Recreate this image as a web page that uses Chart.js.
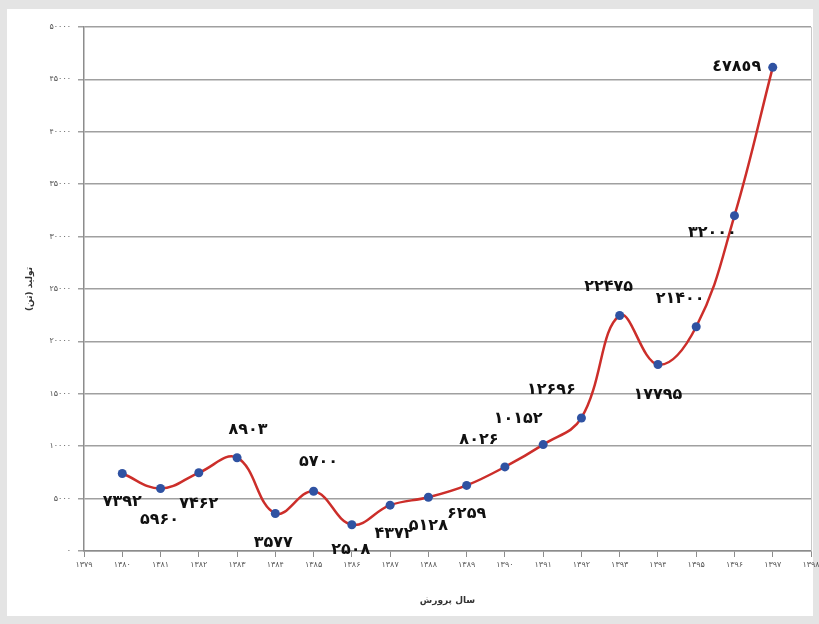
<!DOCTYPE html>
<html>
<head>
<meta charset="utf-8">
<script src="https://cdn.jsdelivr.net/npm/chart.js@4"></script>
<style>
  html, body { margin: 0; padding: 0; background: #e4e4e4; }
  #wrap { position: absolute; left: 0; top: 0; width: 819px; height: 624px; }
</style>
</head>
<body>
<div id="wrap"><canvas id="prodChart" width="819" height="624"></canvas></div>
<script>
// سال‌ها و مقدار تولید
var years = [1379, 1380, 1381, 1382, 1383, 1384, 1385, 1386, 1387, 1388, 1389,
             1390, 1391, 1392, 1393, 1394, 1395, 1396, 1397, 1398];
var production = [null, 7392, 5960, 7462, 8903, 3577, 5700, 2508, 4372, 5128, 6259,
                  8026, 10152, 12696, 22475, 17795, 21400, 32000, 46150, null];
var pointLabels = ['', '۷۳۹۲', '۵۹۶۰', '۷۴۶۲', '۸۹۰۳', '۳۵۷۷', '۵۷۰۰', '۲۵۰۸', '۴۳۷۲', '۵۱۲۸', '۶۲۵۹',
                   '۸۰۲۶', '۱۰۱۵۲', '۱۲۶۹۶', '۲۲۴۷۵', '۱۷۷۹۵', '۲۱۴۰۰', '۳۲۰۰۰', '٤٧٨٥٩', ''];
var yTicks = [0, 5000, 10000, 15000, 20000, 25000, 30000, 35000, 40000, 45000, 50000];

// جای برچسب نسبت به نقطه
var labelOffsets = [null, [0, 28], [-1, 31], [0, 31], [11, -28], [-2, 29], [5, -29], [-1, 25],
                    [4, 29], [0, 29], [0, 28], [-26, -27], [-25, -26], [-30, -28], [-11, -29],
                    [0, 30], [-16, -28], [-22, 17], [-36, -1], null];

function toFa(n) {
    var fa = '۰۱۲۳۴۵۶۷۸۹';
    return String(n).replace(/[0-9]/g, function(d) { return fa[+d]; });
}

var FONT = "'DejaVu Sans', sans-serif";

var framePlugin = {
    id: 'frame',
    beforeDraw: function(chart) {
        var ctx = chart.ctx;
        ctx.save();
        ctx.fillStyle = '#ffffff';
        ctx.fillRect(7, 9, 806, 607);
        ctx.restore();
    },
    afterDraw: function(chart) {
        var ctx = chart.ctx;
        var a = chart.chartArea;
        ctx.save();
        ctx.strokeStyle = '#c8c8c8';
        ctx.lineWidth = 1;
        ctx.beginPath();
        ctx.moveTo(a.right + 0.5, a.top);
        ctx.lineTo(a.right + 0.5, a.bottom);
        ctx.stroke();
        ctx.restore();
    }
};

var valueLabelPlugin = {
    id: 'valueLabels',
    afterDatasetsDraw: function(chart) {
        var ctx = chart.ctx;
        var meta = chart.getDatasetMeta(0);
        ctx.save();
        ctx.font = 'bold 16px ' + FONT;
        ctx.fillStyle = '#111111';
        ctx.textAlign = 'center';
        ctx.textBaseline = 'middle';
        meta.data.forEach(function(pt, i) {
            if (production[i] == null || !labelOffsets[i]) return;
            ctx.fillText(pointLabels[i], pt.x + labelOffsets[i][0], pt.y + labelOffsets[i][1]);
        });
        ctx.restore();
    }
};

var ctx = document.getElementById('prodChart').getContext('2d');
var chart = new Chart(ctx, {
    type: 'line',
    data: {
        labels: years.map(toFa),
        datasets: [{
            data: production,
            borderColor: '#cc2e2a',
            borderWidth: 2.5,
            tension: 0.4,
            pointRadius: 4.5,
            pointBackgroundColor: '#2f52a2',
            pointBorderColor: '#2f52a2',
            pointBorderWidth: 0,
            clip: false
        }]
    },
    options: {
        responsive: false,
        animation: false,
        devicePixelRatio: 1,
        layout: { padding: { left: 0, top: 27, right: 8, bottom: 0 } },
        plugins: {
            legend: { display: false },
            tooltip: { enabled: false }
        },
        scales: {
            x: {
                type: 'category',
                offset: false,
                grid: {
                    drawOnChartArea: false,
                    drawTicks: true,
                    tickLength: 6,
                    color: '#8c8c8c'
                },
                border: { display: true, color: '#8c8c8c', width: 1.5 },
                ticks: {
                    autoSkip: false,
                    maxRotation: 0,
                    padding: 3,
                    color: '#555',
                    font: { family: FONT, size: 8 }
                },
                title: {
                    display: true,
                    text: 'سال پرورش',
                    color: '#333',
                    font: { family: FONT, size: 9, weight: 'bold' },
                    padding: { top: 0, bottom: 18 }
                },
                afterFit: function(scale) {
                    scale.height = 73;
                    scale.paddingRight = 0;
                    scale.paddingLeft = 0;
                }
            },
            y: {
                min: 0,
                max: 50000,
                afterBuildTicks: function(scale) {
                    scale.ticks = yTicks.map(function(v) { return { value: v }; });
                },
                grid: {
                    color: '#a0a0a0',
                    lineWidth: 1.5,
                    drawTicks: true,
                    tickLength: 6
                },
                border: { display: true, color: '#8c8c8c', width: 1.5 },
                ticks: {
                    padding: 7,
                    color: '#555',
                    font: { family: FONT, size: 8 },
                    callback: function(v) { return toFa(v); }
                },
                title: {
                    display: true,
                    text: 'تولید (تن)',
                    color: '#333',
                    font: { family: FONT, size: 9, weight: 'bold' },
                    padding: { top: 24, bottom: 0 }
                },
                afterFit: function(scale) {
                    scale.width = 84;
                    scale.paddingTop = 0;
                    scale.paddingBottom = 0;
                }
            }
        }
    },
    plugins: [framePlugin, valueLabelPlugin]
});
</script>
</body>
</html>
